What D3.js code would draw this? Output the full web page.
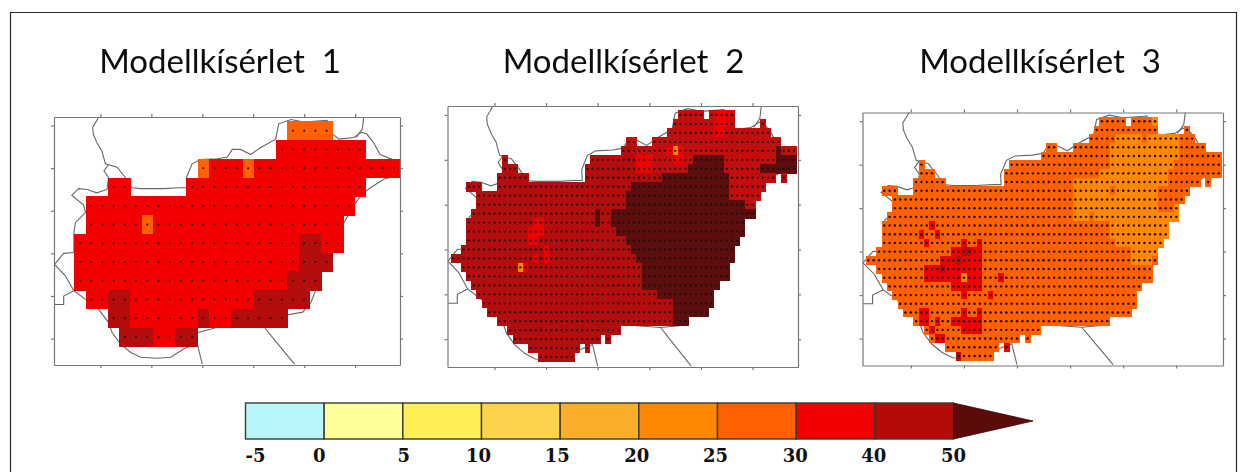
<!DOCTYPE html>
<html><head><meta charset="utf-8">
<script src="https://cdn.jsdelivr.net/npm/d3@7/dist/d3.min.js"></script>
<style>html,body{margin:0;background:#fff}svg{display:block}</style></head>
<body><svg id="c" width="1247" height="472"></svg>
<script>
// ---------- legend ----------
const legendEdges = [-5,0,5,10,15,20,25,30,40,50];
const legendColors = ["#b8f6fb","#ffff99","#ffee58","#fdd34b","#faae2a","#ff8800","#ff6000","#f20000","#b40a0a"];
const legendOverColor = "#5c0a0a";
const legendLabels = ["-5","0","5","10","15","20","25","30","40","50"];
const legendLabelNudge = [10,-5,1,-3,-3,-2,-2,-1,-1,0];
const titles = ["Modellkísérlet  1","Modellkísérlet  2","Modellkísérlet  3"];
const lonTicks = [17,18,19,20,21,22];
const latTicks = [46,46.5,47,47.5,48,48.5];

// ---------- model 1: 0.22 degree grid (row / column indices) ----------
const grid1Lon0 = 16.6, grid1Lat0 = 48.44, grid1Step = 0.22;
const model1Rows = ["19-22","18-25","11-28","3-4 10-25","1-24","1-23","0-23","0-22","0-21","1-20","3-18","4-10"];
const model1Base = 35;
const model1Layers = [
 [27,[[0,"19-22"],[2,"11 15"],[5,"6"]]],
 [45,[[6,"20-21"],[7,"20-22"],[8,"19-21"],[9,"3-4 16-20"],[10,"3-4 11 14-18"],[11,"4-6 9-10"]]]
];

// ---------- models 2, 3: 0.1 degree grid; keys are lat*10, ranges lon*10 ----------
const fineRows = [
 [485,"206-210 212-216"],[484,"205-216 222"],[483,"204-223"],[482,"196-197 201-225"],
 [481,"195-228"],[480,"172 189-228"],[479,"172-174 188-228"],[478,"171-176 188-224 226"],
 [477,"165-167 171-222"],[476,"167-221"],[475,"167-220"],[474,"166-220"],[473,"165-218"],
 [472,"165-218"],[471,"165-217"],[470,"164-216"],[469,"162-216"],[468,"164-215"],[467,"165-215"],
 [466,"166-213"],[465,"167-212"],[464,"168-212"],[463,"169-211"],[462,"171-207"],[461,"173-194"],
 [460,"174-190 192"],[459,"177-186 188"],[458,"179-185"]
];
const model2Base = 45;
const model2Layers = [
 [42,[[485,"206-216"],[484,"205-216 222"],[483,"204-223"],[482,"196-197 201-225"],[481,"198-228"],
      [480,"198-224"],[479,"198-221"],[478,"216-224"],[477,"216-222"],[476,"216-221"],[475,"219-220"]]],
 [35,[[485,"213-215"],[484,"213-215"],[483,"213-214"],[481,"204-206"],[480,"198-200 205-206"],[479,"198-200"],
      [473,"178-179"],[472,"177-179"],[471,"177-178"],[470,"180"],[469,"178 180"],[468,"176"]]],
 [22,[[481,"205"],[468,"175"]]],
 [55,[[481,"225"],[480,"209-214 225-228"],[479,"208-214 222-228"],[478,"203-215"],[477,"197-215"],[476,"196-215"],
      [475,"196-218"],[474,"190 193-220"],[473,"190 193-218"],[472,"194-218"],[471,"196-217"],[470,"197-216"],
      [469,"198-216"],[468,"199-215"],[467,"199-215"],[466,"199-213"],[465,"202-212"],[464,"205-212"],
      [463,"205-211"],[462,"205-207"]]]
];
const model3Base = 27;
const model3Layers = [
 [22,[[485,"216"],[483,"209-213 215-220"],[482,"208-220"],[481,"208-220"],[480,"208-219"],[479,"206-218"],
      [478,"201-218"],[477,"201-216"],[476,"201-216"],[475,"201-216 220"],[474,"201-220"],[473,"208-218"],
      [472,"208-218"],[471,"209-217"],[470,"212-216"],[469,"212-215"]]],
 [27,[[477,"208"],[474,"204"]]],
 [35,[[473,"174"],[472,"172 175"],[471,"173 180 183"],[470,"178-183"],[469,"176-183"],[468,"173-183"],
      [467,"173-183 187"],[466,"178-183"],[465,"180 185"],[463,"172-173 180 183"],[462,"172-173 175 178-183"],
      [461,"174 180-183"],[460,"175-176"],[459,"188"]]],
 [22,[[467,"180"]]],
 [45,[[470,"180-181"],[469,"179"],[468,"176"],[458,"179"]]]
];

// ---------- borders (lon, lat) ----------
const borderRing = [[17.16,48.04],[17.33,48.01],[17.49,47.89],[17.62,47.77],[17.79,47.76],[18.24,47.76],[18.54,47.77],[18.70,47.77],[18.69,47.89],[18.80,48.05],[18.96,48.10],[19.29,48.11],[19.49,48.13],[19.59,48.22],[19.75,48.22],[19.95,48.16],[20.14,48.24],[20.44,48.34],[20.50,48.52],[20.74,48.57],[21.00,48.54],[21.45,48.56],[21.52,48.42],[21.68,48.34],[21.97,48.36],[22.13,48.42],[22.23,48.40],[22.36,48.30],[22.49,48.16],[22.78,48.09],[22.80,47.91],[22.56,47.87],[22.30,47.77],[22.13,47.69],[21.97,47.56],[21.78,47.36],[21.68,47.24],[21.68,47.05],[21.48,46.97],[21.46,46.82],[21.26,46.78],[21.22,46.56],[21.13,46.42],[20.97,46.31],[20.61,46.27],[20.58,46.15],[20.22,46.13],[19.75,46.15],[19.56,46.18],[19.16,46.11],[18.90,46.07],[18.90,45.94],[18.64,45.88],[18.38,45.78],[18.11,45.77],[17.79,45.78],[17.59,45.84],[17.39,45.94],[17.23,46.07],[17.16,46.19],[16.93,46.37],[16.71,46.46],[16.48,46.56],[16.31,46.74],[16.10,46.87],[16.28,47.00],[16.48,47.01],[16.48,47.23],[16.51,47.36],[16.71,47.48],[16.67,47.57],[16.44,47.68],[16.57,47.76],[16.74,47.75],[16.93,47.71],[17.13,47.75],[17.16,47.89],[17.07,47.97],[17.16,48.04]];
const borderSpurs = [
 [[16.97,48.60],[16.85,48.48],[16.86,48.40],[16.93,48.30],[17.03,48.20],[17.10,48.05],[17.16,48.04]],
 [[22.02,48.36],[22.14,48.46],[22.17,48.60]],
 [[20.22,46.13],[20.41,45.99],[20.70,45.78],[20.81,45.70]],
 [[18.90,45.94],[19.00,45.70]],
 [[16.48,46.56],[16.28,46.50],[16.28,46.40],[16.10,46.40]]
];

// ---------- drawing ----------
const lonDomain = [16.09,22.88], latDomain = [45.69,48.6];
const panels = [
 {box:[54,117,400,365], dotR:1.0},
 {box:[447.5,106,798,367], dotR:1.15},
 {box:[862.5,112.5,1223,365.5], dotR:1.2}
];
const titleCenters = [220,623.5,1040];

// legend thresholds, with the paler 40-50 tint seen in part of model 2
const cellColor = d3.scaleThreshold()
  .domain([0,5,10,15,20,25,30,40,44,50])
  .range([...legendColors.slice(0,8),"#c40a0a","#b40a0a",legendOverColor]);

const parseRuns = s => s.split(" ").flatMap(t => {
  const [a,b] = t.split("-").map(Number);
  return b===undefined ? [a] : d3.range(a,b+1);
});

function buildCells(rows, base, layers, toLon, toLat, step){
  const m = new Map();
  rows.forEach(([r,s]) => parseRuns(s).forEach(c => m.set(r+"_"+c,{lon:toLon(c),lat:toLat(r),v:base,step})));
  layers.forEach(([v,list]) => list.forEach(([r,s]) => parseRuns(s).forEach(c => {
    const cell = m.get(r+"_"+c); if(cell) cell.v = v;
  })));
  return [...m.values()];
}
const cells1 = buildCells(model1Rows.map((s,i)=>[i,s]), model1Base, model1Layers,
  c=>grid1Lon0+c*grid1Step, r=>grid1Lat0-r*grid1Step, grid1Step);
const cells2 = buildCells(fineRows, model2Base, model2Layers, c=>c/10, r=>r/10, 0.1);
const cells3 = buildCells(fineRows, model3Base, model3Layers, c=>c/10, r=>r/10, 0.1);
const allCells = [cells1,cells2,cells3];

const svg = d3.select("#c");
const defs = svg.append("defs");
defs.append("filter").attr("id","soft").attr("x","-5%").attr("y","-5%").attr("width","110%").attr("height","110%")
  .append("feGaussianBlur").attr("stdDeviation",0.6);
defs.append("filter").attr("id","softT").append("feGaussianBlur").attr("stdDeviation",0.3);

// outer frame
svg.append("path").attr("d",d3.line()([[10.5,472],[10.5,12.5],[1236.5,12.5],[1236.5,472]]))
  .attr("fill","none").attr("stroke","#2a2a2a").attr("stroke-width",1.2);

panels.forEach((p,i) => {
  const [x0,y0,x1,y1] = p.box;
  const x = d3.scaleLinear().domain(lonDomain).range([x0,x1]);
  const y = d3.scaleLinear().domain(latDomain).range([y1,y0]);
  const g = svg.append("g").attr("filter","url(#soft)");

  const line = d3.line().x(d=>x(d[0])).y(d=>y(d[1]));
  g.selectAll("path.border").data([borderRing,...borderSpurs]).join("path").attr("class","border")
    .attr("d",line).attr("fill","none").attr("stroke","#666").attr("stroke-width",1.1);

  g.selectAll("rect.cell").data(allCells[i]).join("rect").attr("class","cell")
    .attr("shape-rendering","crispEdges")
    .attr("x",d=>x(d.lon-d.step/2)).attr("y",d=>y(d.lat+d.step/2))
    .attr("width",d=>x(d.lon+d.step/2)-x(d.lon-d.step/2)+0.5)
    .attr("height",d=>y(d.lat-d.step/2)-y(d.lat+d.step/2)+0.5)
    .attr("fill",d=>cellColor(d.v));

  g.selectAll("circle.dot").data(allCells[i]).join("circle").attr("class","dot")
    .attr("cx",d=>x(d.lon)).attr("cy",d=>y(d.lat)).attr("r",p.dotR).attr("fill","#1a0a0a");

  const fmt = () => "";
  const ax = [
    [d3.axisBottom(x).tickValues(lonTicks),`translate(0,${y1})`],
    [d3.axisTop(x).tickValues(lonTicks),`translate(0,${y0})`],
    [d3.axisLeft(y).tickValues(latTicks),`translate(${x0},0)`],
    [d3.axisRight(y).tickValues(latTicks),`translate(${x1},0)`]
  ];
  ax.forEach(([a,t]) => {
    const s = g.append("g").attr("transform",t).call(a.tickSize(3).tickSizeOuter(0).tickFormat(fmt));
    s.selectAll("path,line").attr("stroke","#777").attr("stroke-width",1.2);
  });

  svg.append("text").attr("x",titleCenters[i]).attr("y",73).attr("text-anchor","middle")
    .attr("font-family","Lato, 'Open Sans', sans-serif").attr("font-size",33).attr("fill","#111")
    .attr("xml:space","preserve").style("white-space","pre").attr("filter","url(#softT)").text(titles[i]);
});

// legend bar
const lx = d3.scaleLinear().domain([0,legendColors.length]).range([245.5,953.5]);
const ly0 = 403, ly1 = 439;
const lg = svg.append("g");
lg.selectAll("rect").data(legendColors).join("rect")
  .attr("x",(d,i)=>lx(i)).attr("y",ly0).attr("width",(d,i)=>lx(i+1)-lx(i)).attr("height",ly1-ly0)
  .attr("fill",d=>d).attr("stroke","#3a3a2e").attr("stroke-width",1.4);
lg.append("path").attr("d",d3.line()([[lx(9),ly0],[1033,(ly0+ly1)/2],[lx(9),ly1]])+"Z")
  .attr("fill",legendOverColor).attr("stroke","#3a0a0a").attr("stroke-width",0.8);
lg.selectAll("text").data(legendLabels).join("text")
  .attr("x",(d,i)=>lx(i)+legendLabelNudge[i]).attr("y",462).attr("text-anchor","middle")
  .attr("font-family","'DejaVu Serif', serif").attr("font-weight","bold").attr("font-size",18).attr("fill","#111").text(d=>d);
</script></body></html>
